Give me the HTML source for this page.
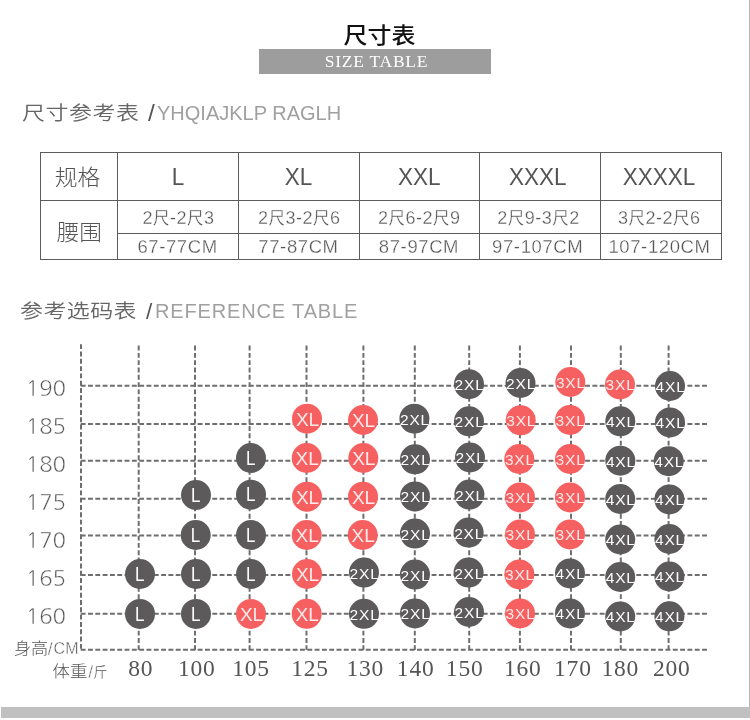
<!DOCTYPE html>
<html><head><meta charset="utf-8"><title>尺寸表 SIZE TABLE</title>
<style>
html,body{margin:0;padding:0;background:#fff;}
body{width:750px;height:720px;overflow:hidden;}
svg.pg{display:block;}
text{font-family:"Liberation Sans","Noto Sans CJK SC",sans-serif;}
.title{font-family:"Liberation Sans","Noto Sans CJK SC",sans-serif;font-weight:500;fill:#111;}
.sizet{font-family:"Liberation Serif",serif;fill:#fff;}
.hc{font-family:"Liberation Sans","Noto Sans CJK SC",sans-serif;font-weight:350;fill:#666;}
.hs{font-family:"Liberation Sans","Noto Sans CJK SC",sans-serif;font-weight:300;fill:#555;}
.he{fill:#a0a0a0;}
.tcj{font-family:"Liberation Sans","Noto Sans CJK SC",sans-serif;font-weight:300;fill:#555;}
.th{fill:#555;}
.tr1{fill:#555;font-family:"Liberation Sans","Noto Sans CJK SC",sans-serif;font-weight:300;}
.tr2{fill:#555;stroke:#fff;stroke-width:0.3px;}
.tr1{stroke:#fff;stroke-width:0.3px;}
.chi{font-size:16.5px;font-weight:400;}
.ct{font-family:"Liberation Sans",sans-serif;}
.yl{fill:#555;font-family:"NanumGothic","Liberation Sans",sans-serif;}
.xl{font-family:"Liberation Serif",serif;fill:#555;}
.lb{fill:#555;font-family:"Liberation Sans","Noto Sans CJK SC",sans-serif;font-weight:300;}
.lbs{fill:#555;font-family:"Liberation Sans","Noto Sans CJK SC",sans-serif;font-weight:300;stroke:#fff;stroke-width:0.5px;}
.lbe{fill:#555;font-family:"Liberation Sans",sans-serif;stroke:#fff;stroke-width:0.4px;}
</style></head><body>
<svg class="pg" width="750" height="720" viewBox="0 0 750 720"><rect x="259" y="49" width="232" height="25" fill="#9d9d9d"/><text class="title" transform="translate(379.40 43.10) scale(1 0.9)" text-anchor="middle" style="font-size:24px">尺寸表</text><text class="sizet" x="376.50" y="66.70" text-anchor="middle" style="font-size:17.5px;letter-spacing:0.75px">SIZE TABLE</text><text class="hc" transform="translate(22.00 120.30) scale(1 0.86)" style="font-size:23px;letter-spacing:0.5px">尺寸参考表</text><text class="hs" x="148.00" y="121.30" style="font-size:24.5px">/</text><text class="he" x="157.00" y="119.60" style="font-size:20px">YHQIAJKLP RAGLH</text><text class="hc" transform="translate(20.00 317.50) scale(1 0.86)" style="font-size:23px;letter-spacing:0.4px">参考选码表</text><text class="hs" x="146.00" y="318.80" style="font-size:22.5px">/</text><text class="he" x="155.00" y="317.60" style="font-size:20px;letter-spacing:0.85px">REFERENCE TABLE</text><rect x="40" y="152" width="1" height="108" fill="#5c5c5c"/><rect x="117" y="152" width="1" height="108" fill="#5c5c5c"/><rect x="238" y="152" width="1" height="108" fill="#5c5c5c"/><rect x="359" y="152" width="1" height="108" fill="#5c5c5c"/><rect x="479" y="152" width="1" height="108" fill="#5c5c5c"/><rect x="600" y="152" width="1" height="108" fill="#5c5c5c"/><rect x="721" y="152" width="1" height="108" fill="#5c5c5c"/><rect x="40" y="152" width="682" height="1" fill="#5c5c5c"/><rect x="40" y="200" width="682" height="1" fill="#5c5c5c"/><rect x="117" y="233" width="605" height="1" fill="#5c5c5c"/><rect x="40" y="259" width="682" height="1" fill="#5c5c5c"/><text class="tcj" transform="translate(77.60 185.30) scale(1.04 0.97)" text-anchor="middle" style="font-size:22px">规格</text><text class="tcj" transform="translate(79.30 239.50) scale(1.03 0.97)" text-anchor="middle" style="font-size:22px">腰围</text><text class="th" transform="translate(178.10 185.00) scale(1 1.08)" text-anchor="middle" style="font-size:22.5px">L</text><text class="tr1" x="178.50" y="224.00" text-anchor="middle" style="font-size:18px;letter-spacing:0.5px">2<tspan class="chi">尺</tspan>-2<tspan class="chi">尺</tspan>3</text><text class="tr2" x="177.60" y="252.50" text-anchor="middle" style="font-size:18.5px;letter-spacing:0.6px">67-77CM</text><text class="th" transform="translate(298.50 185.00) scale(1 1.08)" text-anchor="middle" style="font-size:22.5px">XL</text><text class="tr1" x="299.30" y="224.00" text-anchor="middle" style="font-size:18px;letter-spacing:0.5px">2<tspan class="chi">尺</tspan>3-2<tspan class="chi">尺</tspan>6</text><text class="tr2" x="298.50" y="252.50" text-anchor="middle" style="font-size:18.5px;letter-spacing:0.6px">77-87CM</text><text class="th" transform="translate(419.30 185.00) scale(1 1.08)" text-anchor="middle" style="font-size:22.5px">XXL</text><text class="tr1" x="419.30" y="224.00" text-anchor="middle" style="font-size:18px;letter-spacing:0.5px">2<tspan class="chi">尺</tspan>6-2<tspan class="chi">尺</tspan>9</text><text class="tr2" x="419.00" y="252.50" text-anchor="middle" style="font-size:18.5px;letter-spacing:0.6px">87-97CM</text><text class="th" transform="translate(537.70 185.00) scale(1 1.08)" text-anchor="middle" style="font-size:22.5px">XXXL</text><text class="tr1" x="538.60" y="224.00" text-anchor="middle" style="font-size:18px;letter-spacing:0.5px">2<tspan class="chi">尺</tspan>9-3<tspan class="chi">尺</tspan>2</text><text class="tr2" x="537.70" y="252.50" text-anchor="middle" style="font-size:18.5px;letter-spacing:0.6px">97-107CM</text><text class="th" transform="translate(659.00 185.00) scale(1 1.08)" text-anchor="middle" style="font-size:22.5px">XXXXL</text><text class="tr1" x="659.30" y="224.00" text-anchor="middle" style="font-size:18px;letter-spacing:0.5px">3<tspan class="chi">尺</tspan>2-2<tspan class="chi">尺</tspan>6</text><text class="tr2" x="659.50" y="252.50" text-anchor="middle" style="font-size:18.5px;letter-spacing:0.6px">107-120CM</text><g stroke="#6e6e6e" stroke-width="2" stroke-dasharray="4.9 2.41" fill="none"><line x1="81" y1="344.2" x2="81" y2="651"/><line x1="138.7" y1="345.6" x2="138.7" y2="650"/><line x1="195" y1="345.6" x2="195" y2="650"/><line x1="249.6" y1="345.6" x2="249.6" y2="650"/><line x1="306.5" y1="345.6" x2="306.5" y2="650"/><line x1="363.4" y1="345.6" x2="363.4" y2="650"/><line x1="414.8" y1="345.6" x2="414.8" y2="650"/><line x1="469.2" y1="345.6" x2="469.2" y2="650"/><line x1="519.9" y1="345.6" x2="519.9" y2="650"/><line x1="571" y1="345.6" x2="571" y2="650"/><line x1="620.8" y1="345.6" x2="620.8" y2="650"/><line x1="668.6" y1="345.6" x2="668.6" y2="650"/><line x1="80.7" y1="385.8" x2="708" y2="385.8"/><line x1="80.7" y1="423.9" x2="708" y2="423.9"/><line x1="80.7" y1="460.8" x2="708" y2="460.8"/><line x1="80.7" y1="498.8" x2="708" y2="498.8"/><line x1="80.7" y1="535.5" x2="708" y2="535.5"/><line x1="80.7" y1="575" x2="708" y2="575"/><line x1="80.7" y1="613.8" x2="708" y2="613.8"/><line x1="80.7" y1="649.8" x2="708" y2="649.8"/></g><circle cx="469" cy="384.2" r="15" fill="#5c5a5b"/><text class="ct" x="469.60" y="390.10" text-anchor="middle" style="font-size:15.5px;letter-spacing:0.8px;fill:#ffffff">2XL</text><circle cx="520.5" cy="383" r="15" fill="#5c5a5b"/><text class="ct" x="521.10" y="388.90" text-anchor="middle" style="font-size:15.5px;letter-spacing:0.8px;fill:#ffffff">2XL</text><circle cx="570.3" cy="382" r="15" fill="#f76060"/><text class="ct" x="570.90" y="387.90" text-anchor="middle" style="font-size:15.5px;letter-spacing:0.8px;fill:#feeaea">3XL</text><circle cx="620" cy="384.5" r="15" fill="#f76060"/><text class="ct" x="620.60" y="390.40" text-anchor="middle" style="font-size:15.5px;letter-spacing:0.8px;fill:#feeaea">3XL</text><circle cx="670" cy="386" r="15" fill="#5c5a5b"/><text class="ct" x="670.60" y="391.90" text-anchor="middle" style="font-size:15.5px;letter-spacing:0.8px;fill:#ffffff">4XL</text><circle cx="307" cy="418.7" r="15" fill="#f76060"/><text class="ct" x="307.50" y="425.70" text-anchor="middle" style="font-size:19px;fill:#feeaea">XL</text><circle cx="363" cy="420" r="15" fill="#f76060"/><text class="ct" x="363.50" y="427.00" text-anchor="middle" style="font-size:19px;fill:#feeaea">XL</text><circle cx="414.4" cy="418.7" r="15" fill="#5c5a5b"/><text class="ct" x="415.00" y="424.60" text-anchor="middle" style="font-size:15.5px;letter-spacing:0.8px;fill:#ffffff">2XL</text><circle cx="469" cy="421.3" r="15" fill="#5c5a5b"/><text class="ct" x="469.60" y="427.20" text-anchor="middle" style="font-size:15.5px;letter-spacing:0.8px;fill:#ffffff">2XL</text><circle cx="520.7" cy="420.3" r="15" fill="#f76060"/><text class="ct" x="521.30" y="426.20" text-anchor="middle" style="font-size:15.5px;letter-spacing:0.8px;fill:#feeaea">3XL</text><circle cx="570" cy="420" r="15" fill="#f76060"/><text class="ct" x="570.60" y="425.90" text-anchor="middle" style="font-size:15.5px;letter-spacing:0.8px;fill:#feeaea">3XL</text><circle cx="620.3" cy="421.3" r="15" fill="#5c5a5b"/><text class="ct" x="620.90" y="427.20" text-anchor="middle" style="font-size:15.5px;letter-spacing:0.8px;fill:#ffffff">4XL</text><circle cx="670" cy="422.4" r="15" fill="#5c5a5b"/><text class="ct" x="670.60" y="428.30" text-anchor="middle" style="font-size:15.5px;letter-spacing:0.8px;fill:#ffffff">4XL</text><circle cx="251" cy="458" r="15" fill="#5c5a5b"/><text class="ct" transform="translate(250.70 464.60) scale(0.85 1)" text-anchor="middle" style="font-size:20px;fill:#ffffff">L</text><circle cx="306.7" cy="458" r="15" fill="#f76060"/><text class="ct" x="307.20" y="465.00" text-anchor="middle" style="font-size:19px;fill:#feeaea">XL</text><circle cx="363.3" cy="458" r="15" fill="#f76060"/><text class="ct" x="363.80" y="465.00" text-anchor="middle" style="font-size:19px;fill:#feeaea">XL</text><circle cx="415" cy="459.3" r="15" fill="#5c5a5b"/><text class="ct" x="415.60" y="465.20" text-anchor="middle" style="font-size:15.5px;letter-spacing:0.8px;fill:#ffffff">2XL</text><circle cx="470" cy="457.5" r="15" fill="#5c5a5b"/><text class="ct" x="470.60" y="463.40" text-anchor="middle" style="font-size:15.5px;letter-spacing:0.8px;fill:#ffffff">2XL</text><circle cx="519.3" cy="459" r="15" fill="#f76060"/><text class="ct" x="519.90" y="464.90" text-anchor="middle" style="font-size:15.5px;letter-spacing:0.8px;fill:#feeaea">3XL</text><circle cx="570" cy="459" r="15" fill="#f76060"/><text class="ct" x="570.60" y="464.90" text-anchor="middle" style="font-size:15.5px;letter-spacing:0.8px;fill:#feeaea">3XL</text><circle cx="620.3" cy="460.7" r="15" fill="#5c5a5b"/><text class="ct" x="620.90" y="466.60" text-anchor="middle" style="font-size:15.5px;letter-spacing:0.8px;fill:#ffffff">4XL</text><circle cx="668.7" cy="461.2" r="15" fill="#5c5a5b"/><text class="ct" x="669.30" y="467.10" text-anchor="middle" style="font-size:15.5px;letter-spacing:0.8px;fill:#ffffff">4XL</text><circle cx="196" cy="495" r="15" fill="#5c5a5b"/><text class="ct" transform="translate(195.70 501.60) scale(0.85 1)" text-anchor="middle" style="font-size:20px;fill:#ffffff">L</text><circle cx="251" cy="494.7" r="15" fill="#5c5a5b"/><text class="ct" transform="translate(250.70 501.30) scale(0.85 1)" text-anchor="middle" style="font-size:20px;fill:#ffffff">L</text><circle cx="307" cy="496.7" r="15" fill="#f76060"/><text class="ct" x="307.50" y="503.70" text-anchor="middle" style="font-size:19px;fill:#feeaea">XL</text><circle cx="363" cy="496.7" r="15" fill="#f76060"/><text class="ct" x="363.50" y="503.70" text-anchor="middle" style="font-size:19px;fill:#feeaea">XL</text><circle cx="415" cy="496.4" r="15" fill="#5c5a5b"/><text class="ct" x="415.60" y="502.30" text-anchor="middle" style="font-size:15.5px;letter-spacing:0.8px;fill:#ffffff">2XL</text><circle cx="469.4" cy="494.6" r="15" fill="#5c5a5b"/><text class="ct" x="470.00" y="500.50" text-anchor="middle" style="font-size:15.5px;letter-spacing:0.8px;fill:#ffffff">2XL</text><circle cx="520" cy="497.4" r="15" fill="#f76060"/><text class="ct" x="520.60" y="503.30" text-anchor="middle" style="font-size:15.5px;letter-spacing:0.8px;fill:#feeaea">3XL</text><circle cx="570" cy="497.4" r="15" fill="#f76060"/><text class="ct" x="570.60" y="503.30" text-anchor="middle" style="font-size:15.5px;letter-spacing:0.8px;fill:#feeaea">3XL</text><circle cx="620.2" cy="499" r="15" fill="#5c5a5b"/><text class="ct" x="620.80" y="504.90" text-anchor="middle" style="font-size:15.5px;letter-spacing:0.8px;fill:#ffffff">4XL</text><circle cx="669.4" cy="499.4" r="15" fill="#5c5a5b"/><text class="ct" x="670.00" y="505.30" text-anchor="middle" style="font-size:15.5px;letter-spacing:0.8px;fill:#ffffff">4XL</text><circle cx="195.7" cy="535" r="15" fill="#5c5a5b"/><text class="ct" transform="translate(195.40 541.60) scale(0.85 1)" text-anchor="middle" style="font-size:20px;fill:#ffffff">L</text><circle cx="251" cy="535" r="15" fill="#5c5a5b"/><text class="ct" transform="translate(250.70 541.60) scale(0.85 1)" text-anchor="middle" style="font-size:20px;fill:#ffffff">L</text><circle cx="306.7" cy="535" r="15" fill="#f76060"/><text class="ct" x="307.20" y="542.00" text-anchor="middle" style="font-size:19px;fill:#feeaea">XL</text><circle cx="362.7" cy="535" r="15" fill="#f76060"/><text class="ct" x="363.20" y="542.00" text-anchor="middle" style="font-size:19px;fill:#feeaea">XL</text><circle cx="415" cy="533.6" r="15" fill="#5c5a5b"/><text class="ct" x="415.60" y="539.50" text-anchor="middle" style="font-size:15.5px;letter-spacing:0.8px;fill:#ffffff">2XL</text><circle cx="468.6" cy="532.6" r="15" fill="#5c5a5b"/><text class="ct" x="469.20" y="538.50" text-anchor="middle" style="font-size:15.5px;letter-spacing:0.8px;fill:#ffffff">2XL</text><circle cx="520" cy="534.4" r="15" fill="#f76060"/><text class="ct" x="520.60" y="540.30" text-anchor="middle" style="font-size:15.5px;letter-spacing:0.8px;fill:#feeaea">3XL</text><circle cx="570" cy="534.4" r="15" fill="#f76060"/><text class="ct" x="570.60" y="540.30" text-anchor="middle" style="font-size:15.5px;letter-spacing:0.8px;fill:#feeaea">3XL</text><circle cx="620.2" cy="539.5" r="15" fill="#5c5a5b"/><text class="ct" x="620.80" y="545.40" text-anchor="middle" style="font-size:15.5px;letter-spacing:0.8px;fill:#ffffff">4XL</text><circle cx="669.4" cy="539" r="15" fill="#5c5a5b"/><text class="ct" x="670.00" y="544.90" text-anchor="middle" style="font-size:15.5px;letter-spacing:0.8px;fill:#ffffff">4XL</text><circle cx="140" cy="574" r="15" fill="#5c5a5b"/><text class="ct" transform="translate(139.70 580.60) scale(0.85 1)" text-anchor="middle" style="font-size:20px;fill:#ffffff">L</text><circle cx="196" cy="574" r="15" fill="#5c5a5b"/><text class="ct" transform="translate(195.70 580.60) scale(0.85 1)" text-anchor="middle" style="font-size:20px;fill:#ffffff">L</text><circle cx="251" cy="574" r="15" fill="#5c5a5b"/><text class="ct" transform="translate(250.70 580.60) scale(0.85 1)" text-anchor="middle" style="font-size:20px;fill:#ffffff">L</text><circle cx="307" cy="574" r="15" fill="#f76060"/><text class="ct" x="307.50" y="581.00" text-anchor="middle" style="font-size:19px;fill:#feeaea">XL</text><circle cx="364" cy="572.6" r="15" fill="#5c5a5b"/><text class="ct" x="364.60" y="578.50" text-anchor="middle" style="font-size:15.5px;letter-spacing:0.8px;fill:#ffffff">2XL</text><circle cx="415" cy="574.6" r="15" fill="#5c5a5b"/><text class="ct" x="415.60" y="580.50" text-anchor="middle" style="font-size:15.5px;letter-spacing:0.8px;fill:#ffffff">2XL</text><circle cx="468.6" cy="572.6" r="15" fill="#5c5a5b"/><text class="ct" x="469.20" y="578.50" text-anchor="middle" style="font-size:15.5px;letter-spacing:0.8px;fill:#ffffff">2XL</text><circle cx="519.4" cy="574.4" r="15" fill="#f76060"/><text class="ct" x="520.00" y="580.30" text-anchor="middle" style="font-size:15.5px;letter-spacing:0.8px;fill:#feeaea">3XL</text><circle cx="570" cy="573.4" r="15" fill="#5c5a5b"/><text class="ct" x="570.60" y="579.30" text-anchor="middle" style="font-size:15.5px;letter-spacing:0.8px;fill:#ffffff">4XL</text><circle cx="620.2" cy="577" r="15" fill="#5c5a5b"/><text class="ct" x="620.80" y="582.90" text-anchor="middle" style="font-size:15.5px;letter-spacing:0.8px;fill:#ffffff">4XL</text><circle cx="669.4" cy="576.5" r="15" fill="#5c5a5b"/><text class="ct" x="670.00" y="582.40" text-anchor="middle" style="font-size:15.5px;letter-spacing:0.8px;fill:#ffffff">4XL</text><circle cx="140" cy="613.9" r="15" fill="#5c5a5b"/><text class="ct" transform="translate(139.70 620.50) scale(0.85 1)" text-anchor="middle" style="font-size:20px;fill:#ffffff">L</text><circle cx="196" cy="613.9" r="15" fill="#5c5a5b"/><text class="ct" transform="translate(195.70 620.50) scale(0.85 1)" text-anchor="middle" style="font-size:20px;fill:#ffffff">L</text><circle cx="251" cy="613.9" r="15" fill="#f76060"/><text class="ct" x="251.50" y="620.90" text-anchor="middle" style="font-size:19px;fill:#feeaea">XL</text><circle cx="306.7" cy="613.8" r="15" fill="#f76060"/><text class="ct" x="307.20" y="620.80" text-anchor="middle" style="font-size:19px;fill:#feeaea">XL</text><circle cx="364" cy="613.8" r="15" fill="#5c5a5b"/><text class="ct" x="364.60" y="619.70" text-anchor="middle" style="font-size:15.5px;letter-spacing:0.8px;fill:#ffffff">2XL</text><circle cx="415" cy="613.4" r="15" fill="#5c5a5b"/><text class="ct" x="415.60" y="619.30" text-anchor="middle" style="font-size:15.5px;letter-spacing:0.8px;fill:#ffffff">2XL</text><circle cx="469" cy="612" r="15" fill="#5c5a5b"/><text class="ct" x="469.60" y="617.90" text-anchor="middle" style="font-size:15.5px;letter-spacing:0.8px;fill:#ffffff">2XL</text><circle cx="520" cy="613.4" r="15" fill="#f76060"/><text class="ct" x="520.60" y="619.30" text-anchor="middle" style="font-size:15.5px;letter-spacing:0.8px;fill:#feeaea">3XL</text><circle cx="570" cy="613.4" r="15" fill="#5c5a5b"/><text class="ct" x="570.60" y="619.30" text-anchor="middle" style="font-size:15.5px;letter-spacing:0.8px;fill:#ffffff">4XL</text><circle cx="620.2" cy="616.5" r="15" fill="#5c5a5b"/><text class="ct" x="620.80" y="622.40" text-anchor="middle" style="font-size:15.5px;letter-spacing:0.8px;fill:#ffffff">4XL</text><circle cx="669.4" cy="616.3" r="15" fill="#5c5a5b"/><text class="ct" x="670.00" y="622.20" text-anchor="middle" style="font-size:15.5px;letter-spacing:0.8px;fill:#ffffff">4XL</text><text class="yl" transform="translate(66.00 395.50) scale(1.04 1)" text-anchor="end" style="stroke:#fff;stroke-width:0.25px;font-size:21.3px">190</text><text class="yl" transform="translate(66.00 433.63) scale(1.04 1)" text-anchor="end" style="stroke:#fff;stroke-width:0.25px;font-size:21.3px">185</text><text class="yl" transform="translate(66.00 471.76) scale(1.04 1)" text-anchor="end" style="stroke:#fff;stroke-width:0.25px;font-size:21.3px">180</text><text class="yl" transform="translate(66.00 509.89) scale(1.04 1)" text-anchor="end" style="stroke:#fff;stroke-width:0.25px;font-size:21.3px">175</text><text class="yl" transform="translate(66.00 548.02) scale(1.04 1)" text-anchor="end" style="stroke:#fff;stroke-width:0.25px;font-size:21.3px">170</text><text class="yl" transform="translate(66.00 586.15) scale(1.04 1)" text-anchor="end" style="stroke:#fff;stroke-width:0.25px;font-size:21.3px">165</text><text class="yl" transform="translate(66.00 624.28) scale(1.04 1)" text-anchor="end" style="stroke:#fff;stroke-width:0.25px;font-size:21.3px">160</text><text class="xl" x="140.70" y="676.00" text-anchor="middle" style="font-size:23.5px;letter-spacing:0.8px">80</text><text class="xl" x="196.80" y="676.00" text-anchor="middle" style="font-size:23.5px;letter-spacing:0.8px">100</text><text class="xl" x="251.00" y="676.00" text-anchor="middle" style="font-size:23.5px;letter-spacing:0.8px">105</text><text class="xl" x="310.10" y="676.00" text-anchor="middle" style="font-size:23.5px;letter-spacing:0.8px">125</text><text class="xl" x="365.30" y="676.00" text-anchor="middle" style="font-size:23.5px;letter-spacing:0.8px">130</text><text class="xl" x="415.70" y="676.00" text-anchor="middle" style="font-size:23.5px;letter-spacing:0.8px">140</text><text class="xl" x="464.70" y="676.00" text-anchor="middle" style="font-size:23.5px;letter-spacing:0.8px">150</text><text class="xl" x="522.80" y="676.00" text-anchor="middle" style="font-size:23.5px;letter-spacing:0.8px">160</text><text class="xl" x="572.90" y="676.00" text-anchor="middle" style="font-size:23.5px;letter-spacing:0.8px">170</text><text class="xl" x="620.30" y="676.00" text-anchor="middle" style="font-size:23.5px;letter-spacing:0.8px">180</text><text class="xl" x="671.80" y="676.00" text-anchor="middle" style="font-size:23.5px;letter-spacing:0.8px">200</text><text class="lb" transform="translate(14.00 653.50) scale(1.07 1)" style="font-size:16px">身高</text><text class="lbs" x="47.80" y="654.60" style="font-size:17.5px">/</text><text class="lbe" x="53.50" y="654.30" style="font-size:16px;letter-spacing:0.3px">CM</text><text class="lb" transform="translate(52.50 676.80) scale(1.09 1)" style="font-size:16px">体重</text><text class="lbs" x="88.20" y="678.00" style="font-size:17.5px">/</text><text class="lb" transform="translate(93.20 677.00) scale(1.06 1)" style="font-size:13.5px">斤</text><rect x="749" y="0" width="1" height="707" fill="#b4b4b4"/><rect x="1" y="707" width="749" height="11" fill="#c0c0c0"/></svg>
</body></html>
